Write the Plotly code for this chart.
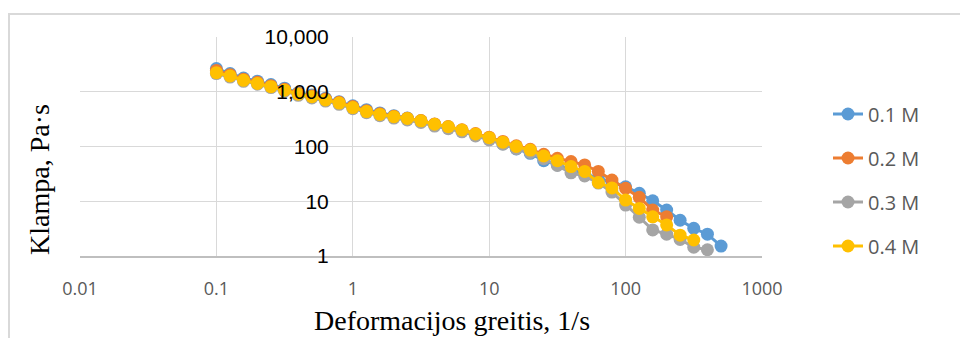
import plotly.graph_objects as go

shear_rate = [0.1, 0.126, 0.158, 0.2, 0.251, 0.316, 0.398, 0.501, 0.631, 0.794,
              1, 1.26, 1.58, 2, 2.51, 3.16, 3.98, 5.01, 6.31, 7.94,
              10, 12.6, 15.8, 20, 25.1, 31.6, 39.8, 50.1, 63.1, 79.4,
              100, 126, 158, 200, 251, 316, 398, 501]

visc_01 = [2650, 2150, 1780, 1560, 1350, 1160, 960, 870, 760, 660,
           555, 470, 410, 365, 330, 295, 255, 228, 198, 166,
           140, 112, 90, 75, 55, 46, 38, 32, 26, 22,
           18.4, 14, 10.2, 6.9, 4.5, 3.2, 2.5, 1.52]
visc_02 = [2450, 2050, 1700, 1490, 1290, 1110, 930, 840, 735, 640,
           535, 450, 395, 355, 328, 297, 258, 232, 202, 172,
           148, 124, 103, 89, 72, 61, 53, 46, 35, 24.4,
           17.2, 11.8, 6.9, 5.2]
visc_03 = [2150, 1850, 1550, 1370, 1190, 1030, 860, 770, 675, 590,
           490, 415, 365, 330, 305, 275, 236, 212, 185, 156,
           132, 110, 91, 78, 60, 45, 33, 29, 21.5, 14.7,
           8.5, 5.1, 3.0, 2.5, 2.0, 1.45, 1.3]
visc_04 = [2230, 1940, 1620, 1420, 1240, 1070, 900, 810, 710, 620,
           515, 435, 385, 350, 325, 295, 255, 230, 200, 170,
           145, 120, 100, 86, 67, 55, 43, 35, 22, 17.5,
           10.5, 7.4, 5.2, 3.7, 2.4, 1.96]

series_names = ["0.1 M", "0.2 M", "0.3 M", "0.4 M"]
series_values = [visc_01, visc_02, visc_03, visc_04]
series_colors = ["#5B9BD5", "#ED7D31", "#A5A5A5", "#FFC000"]

x_tickvals = [0.01, 0.1, 1, 10, 100, 1000]
x_ticktext = ["0.01", "0.1", "1", "10", "100", "1000"]
y_tickvals = [1, 10, 100, 1000, 10000]
y_ticktext = ["1", "10", "100", "1,000", "10,000"]

fig = go.Figure()
for name, vals, col in zip(series_names, series_values, series_colors):
    fig.add_trace(go.Scatter(
        x=shear_rate[:len(vals)], y=vals, name=name, mode="lines+markers",
        line=dict(color=col, width=3),
        marker=dict(color=col, size=13),
        legendgroup=name,
    ))

fig.update_layout(
    width=960, height=338,
    margin=dict(l=80, r=198, t=37, b=82),
    paper_bgcolor="white", plot_bgcolor="white",
    showlegend=True,
    legend=dict(x=(828 - 80) / 682, y=(256 - 180) / 219, xanchor="left", yanchor="middle",
                font=dict(family="Open Sans", size=20, color="#595959"),
                tracegroupgap=15, bgcolor="rgba(0,0,0,0)"),
    xaxis=dict(type="log", range=[-2, 3], tickvals=x_tickvals, ticktext=x_ticktext,
               showgrid=True, gridcolor="#D9D9D9", gridwidth=1,
               showline=True, linecolor="#BFBFBF", linewidth=1.5,
               ticks="", zeroline=False, ticklabelstandoff=16,
               tickfont=dict(family="Open Sans", size=18, color="#595959")),
    yaxis=dict(type="log", range=[0, 4], tickvals=y_tickvals, ticktext=y_ticktext,
               showgrid=True, gridcolor="#D9D9D9", gridwidth=1,
               showline=False, ticks="", zeroline=False,
               anchor="free", position=0.4, ticklabelstandoff=24,
               tickfont=dict(family="Liberation Sans", size=21, color="black")),
    annotations=[
        dict(text="Deformacijos greitis, 1/s", xref="paper", yref="paper",
             x=(452 - 80) / 682, y=(256 - 320) / 219, xanchor="center", yanchor="middle",
             showarrow=False, font=dict(family="Liberation Serif", size=28, color="black")),
        dict(text="Klampa, Pa·s", xref="paper", yref="paper",
             x=(39 - 80) / 682, y=(256 - 180) / 219, xanchor="center", yanchor="middle",
             textangle=-90, showarrow=False,
             font=dict(family="Liberation Serif", size=28, color="black")),
    ],
    shapes=[
        dict(type="path", xref="paper", yref="paper",
             path="M %f,%f L %f,%f L %f,%f" % ((9 - 80) / 682, -1.0,
                                               (9 - 80) / 682, (256 - 14) / 219,
                                               1.5, (256 - 14) / 219),
             line=dict(color="#D9D9D9", width=2)),
    ],
)

fig.write_html("out.html")
